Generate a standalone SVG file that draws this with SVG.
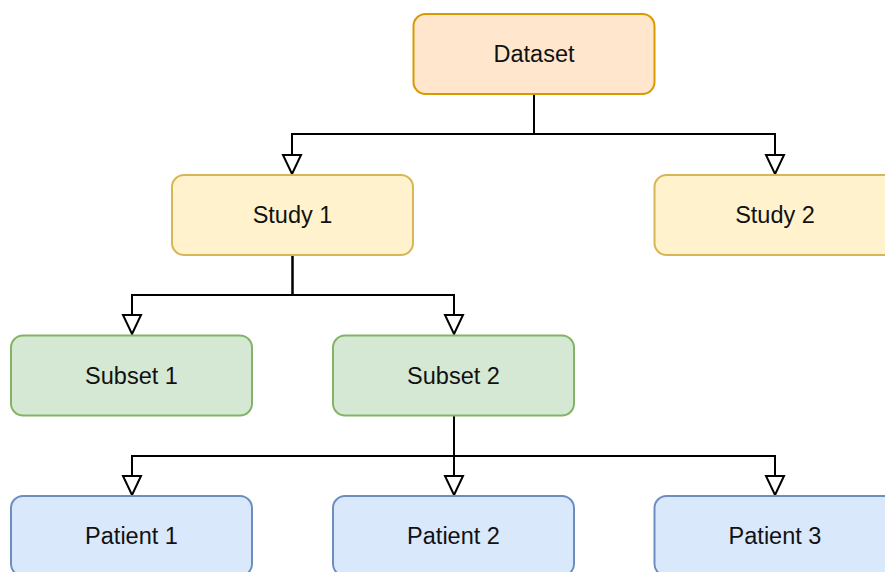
<svg xmlns="http://www.w3.org/2000/svg" width="885" height="572" viewBox="0 0 885 572">
<style>
.n rect{stroke-width:2}
.n text{font-family:"Liberation Sans",Arial,sans-serif;font-size:23.5px;fill:#111;text-anchor:middle;dominant-baseline:central}
.ds rect{fill:#ffe6cc;stroke:#d79b00}
.st rect{fill:#fff2cc;stroke:#d6b656}
.sb rect{fill:#d5e8d4;stroke:#82b366}
.pt rect{fill:#dae8fc;stroke:#6c8ebf}
#connectors path{fill:none;stroke:#000;stroke-width:2;marker-end:url(#tri)}
</style>
<defs>
<marker id="tri" markerUnits="userSpaceOnUse" markerWidth="24" markerHeight="24" viewBox="-21 -12 24 24" refX="0" refY="0" orient="auto">
<path d="M0 0 L-19 -9 L-19 9 Z" fill="#fff" stroke="#000" stroke-width="2"/>
</marker>
</defs>
<rect width="885" height="572" fill="#fff"/>
<g id="connectors">
<path d="M534 94 V134 H292 V174"/>
<path d="M534 94 V134 H775 V174"/>
<path d="M292.5 255 V295 H132 V334"/>
<path d="M292.5 255 V295 H454 V334"/>
<path d="M454 415 V456 H132 V495"/>
<path d="M454 415 V495"/>
<path d="M454 415 V456 H775 V495"/>
</g>
<g id="dataset" class="n ds"><rect x="413.5" y="14" width="241" height="80" rx="12"/><text x="534" y="54">Dataset</text></g>
<g id="study1" class="n st"><rect x="172" y="175" width="241" height="80" rx="12"/><text x="292.5" y="215">Study 1</text></g>
<g id="study2" class="n st"><rect x="654.5" y="175" width="241" height="80" rx="12"/><text x="775" y="215">Study 2</text></g>
<g id="subset1" class="n sb"><rect x="11" y="335.5" width="241" height="80" rx="12"/><text x="131.5" y="375.5">Subset 1</text></g>
<g id="subset2" class="n sb"><rect x="333" y="335.5" width="241" height="80" rx="12"/><text x="453.5" y="375.5">Subset 2</text></g>
<g id="patient1" class="n pt"><rect x="11" y="496" width="241" height="80" rx="12"/><text x="131.5" y="536">Patient 1</text></g>
<g id="patient2" class="n pt"><rect x="333" y="496" width="241" height="80" rx="12"/><text x="453.5" y="536">Patient 2</text></g>
<g id="patient3" class="n pt"><rect x="654.5" y="496" width="241" height="80" rx="12"/><text x="775" y="536">Patient 3</text></g>
</svg>
